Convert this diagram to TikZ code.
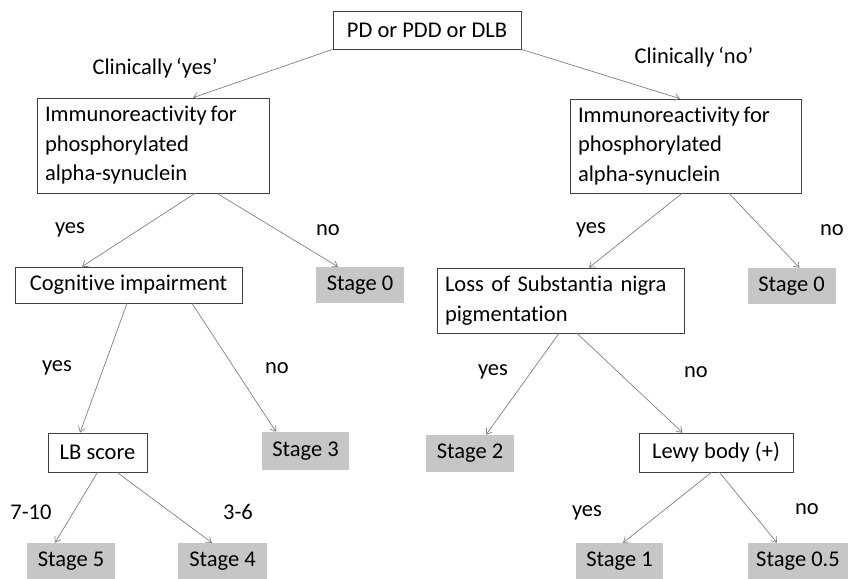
\documentclass[tikz,border=0pt]{standalone}
\usepackage{fontspec}
\setmainfont[Ligatures=NoCommon]{Carlito}
\usepackage{tikz}
\usetikzlibrary{arrows.meta}

\begin{document}
\begin{tikzpicture}[x=1pt,y=-1pt,
	font=\fontsize{22.5}{29.5}\selectfont,
	box/.style={draw=black!75,line width=0.7pt,fill=white,inner sep=0pt},
	stage/.style={fill=gray!45,inner sep=0pt,minimum height=37pt},
	lbl/.style={inner sep=0pt},
	arr/.style={draw=black!50,line width=0.7pt,-{Straight Barb[length=5pt,width=7pt]}}]
	\useasboundingbox (0,0) rectangle (848,578);
			\node[box,minimum width=188pt,minimum height=38pt] (top) at (427,30) {PD or PDD or DLB};
			\node[lbl] (cy) at (155,68) {Clinically\,‘yes’};
			\node[lbl] (cn) at (694,57) {Clinically\,‘no’};
			\node[box,text width=216pt,align=left,inner xsep=8pt,minimum height=95pt] (imL) at (153,145.5) {Immunoreactivity\,for\\phosphorylated\\alpha-synuclein};
			\node[box,text width=215pt,align=left,inner xsep=8pt,minimum height=94pt] (imR) at (685.5,146) {Immunoreactivity\,for\\phosphorylated\\alpha-synuclein};
			\node[lbl] (y1) at (70,230) {yes};
			\node[lbl] (n1) at (328,230) {no};
			\node[lbl] (y2) at (591,230) {yes};
			\node[lbl] (n2) at (832,230) {no};
			\node[box,minimum width=227pt,minimum height=36pt] (cog) at (128.5,285) {Cognitive impairment};
			\node[stage,minimum width=88pt,minimum height=36pt] (st0L) at (360,285) {Stage 0};
			\node[box,text width=231pt,align=left,inner xsep=8pt,minimum height=65pt] (loss) at (560.5,300.5) {Loss of Substantia nigra\\pigmentation};
			\node[stage,minimum width=88pt,minimum height=36pt] (st0R) at (791.5,286) {Stage 0};
			\node[lbl] (y3) at (57,368) {yes};
			\node[lbl] (n3) at (277,368) {no};
			\node[lbl] (y4) at (493,372) {yes};
			\node[lbl] (n4) at (696,372) {no};
			\node[box,minimum width=99pt,minimum height=39pt] (lb) at (97.5,452.5) {LB score};
			\node[stage,minimum width=87pt,minimum height=38pt] (st3) at (305.5,451) {Stage 3};
			\node[stage,minimum width=88pt] (st2) at (470,453.5) {Stage 2};
			\node[box,minimum width=154pt,minimum height=39pt] (lewy) at (716,452.5) {Lewy body (+)};
			\node[lbl] (s710) at (31,512) {7-10};
			\node[lbl] (s36) at (238,512) {3-6};
			\node[lbl] (y5) at (587,513) {yes};
			\node[lbl] (n5) at (807,509) {no};
			\node[stage,minimum width=88pt,minimum height=36pt] (st5) at (71,561) {Stage 5};
			\node[stage,minimum width=89pt,minimum height=36pt] (st4) at (222.5,561) {Stage 4};
			\node[stage,minimum width=87pt,minimum height=36pt] (st1) at (619.5,561) {Stage 1};
			\node[stage,minimum width=100pt,minimum height=36pt] (st05) at (798,561) {Stage 0.5};
			\draw[arr] (top.south west) -- ([xshift=40pt]imL.north);
			\draw[arr] (top.south east) -- ([xshift=-5.5pt]imR.north);
			\draw[arr] ([xshift=42pt]imL.south) -- ([xshift=-46.5pt]cog.north);
			\draw[arr] ([xshift=64pt]imL.south) -- ([xshift=-22pt]st0L.north);
			\draw[arr] ([xshift=-3.5pt]imR.south) -- ([xshift=28.5pt]loss.north);
			\draw[arr] ([xshift=43.5pt]imR.south) -- ([xshift=8pt]st0R.north);
			\draw[arr] ([xshift=-1.5pt]cog.south) -- ([xshift=-17.5pt]lb.north);
			\draw[arr] ([xshift=63.5pt]cog.south) -- ([xshift=-29.5pt]st3.north);
			\draw[arr] (lb.south) -- ([xshift=-16pt]st5.north);
			\draw[arr] ([xshift=19.5pt]lb.south) -- ([xshift=-10.5pt]st4.north);
			\draw[arr] ([xshift=-1.5pt]loss.south) -- ([xshift=16pt]st2.north);
			\draw[arr] ([xshift=16.5pt]loss.south) -- ([xshift=-33.5pt]lewy.north);
			\draw[arr] ([xshift=-4.5pt]lewy.south) -- ([xshift=3.5pt]st1.north);
			\draw[arr] ([xshift=3.5pt]lewy.south) -- ([xshift=-21pt]st05.north);
		\end{tikzpicture}
\end{document}
